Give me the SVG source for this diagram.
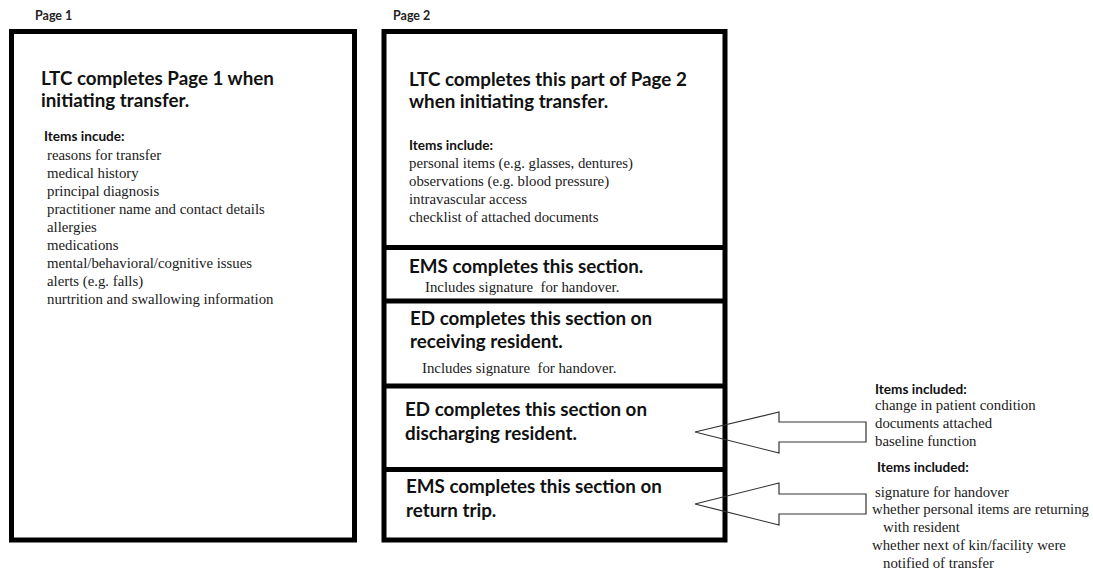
<svg xmlns="http://www.w3.org/2000/svg" width="1093" height="577" viewBox="0 0 1093 577">
<style>
.frame{fill:none;stroke:#000;stroke-width:5}
.div{stroke:#000;stroke-width:5}
.lbl{font-family:Lato,"Open Sans",sans-serif;font-weight:bold;font-size:12.5px;fill:#222}
.title{font-family:Lato,"Open Sans",sans-serif;font-weight:bold;font-size:18.8px;fill:#111}
.head{font-family:Lato,"Open Sans",sans-serif;font-weight:bold;font-size:13.6px;fill:#111}
.item{font-family:"Liberation Serif","Times New Roman",serif;font-size:14.8px;fill:#1a1a1a;white-space:pre}
.arrow{fill:none;stroke:#333;stroke-width:1.2;stroke-linejoin:miter}
</style>
<rect width="1093" height="577" fill="#fff"/>
<g id="page1">
<text class="lbl" x="35" y="20">Page 1</text>
<rect class="frame" x="11.5" y="31.5" width="343" height="508.5"/>
<text class="title" x="41" y="85">LTC completes Page 1 when</text>
<text class="title" x="41" y="107">initiating transfer.</text>
<text class="head" x="44" y="141">Items incude:</text>
<text class="item" x="47" y="160">reasons for transfer</text>
<text class="item" x="47" y="178">medical history</text>
<text class="item" x="47" y="196">principal diagnosis</text>
<text class="item" x="47" y="214">practitioner name and contact details</text>
<text class="item" x="47" y="232">allergies</text>
<text class="item" x="47" y="250">medications</text>
<text class="item" x="47" y="268">mental/behavioral/cognitive issues</text>
<text class="item" x="47" y="286">alerts (e.g. falls)</text>
<text class="item" x="47" y="304">nurtrition and swallowing information</text>
</g>
<g id="page2">
<text class="lbl" x="393" y="20">Page 2</text>
<rect class="frame" x="384" y="31.5" width="341" height="508.5"/>
<line class="div" x1="384" y1="247.5" x2="725" y2="247.5"/>
<line class="div" x1="384" y1="301" x2="725" y2="301"/>
<line class="div" x1="384" y1="386" x2="725" y2="386"/>
<line class="div" x1="384" y1="469.5" x2="725" y2="469.5"/>
</g>
<g id="sec-ltc">
<text class="title" x="409" y="86">LTC completes this part of Page 2</text>
<text class="title" x="409" y="108">when initiating transfer.</text>
<text class="head" x="409" y="150">Items include:</text>
<text class="item" x="409" y="168">personal items (e.g. glasses, dentures)</text>
<text class="item" x="409" y="186">observations (e.g. blood pressure)</text>
<text class="item" x="409" y="204">intravascular access</text>
<text class="item" x="409" y="222">checklist of attached documents</text>
</g>
<g id="sec-ems">
<text class="title" x="409" y="273">EMS completes this section.</text>
<text class="item" x="425" y="292">Includes signature  for handover.</text>
</g>
<g id="sec-ed-receiving">
<text class="title" x="410" y="325">ED completes this section on</text>
<text class="title" x="410" y="348">receiving resident.</text>
<text class="item" x="422" y="373">Includes signature  for handover.</text>
</g>
<g id="sec-ed-discharging">
<text class="title" x="405" y="416">ED completes this section on</text>
<text class="title" x="405" y="440">discharging resident.</text>
</g>
<g id="sec-ems-return">
<text class="title" x="406" y="493">EMS completes this section on</text>
<text class="title" x="406" y="517">return trip.</text>
</g>
<g id="note-discharging">
<text class="head" x="875" y="394">Items included:</text>
<text class="item" x="875" y="410">change in patient condition</text>
<text class="item" x="875" y="428">documents attached</text>
<text class="item" x="875" y="446">baseline function</text>
</g>
<g id="note-return">
<text class="head" x="877" y="472">Items included:</text>
<text class="item" x="875" y="497">signature for handover</text>
<text class="item" x="872" y="514">whether personal items are returning</text>
<text class="item" x="883" y="532">with resident</text>
<text class="item" x="872" y="550">whether next of kin/facility were</text>
<text class="item" x="883" y="568">notified of transfer</text>
</g>
<g id="connectors">
<path class="arrow" d="M695,432 L779,412 L779,422 L866,422 L866,442 L779,442 L779,453 Z"/>
<path class="arrow" d="M695,504 L779,483 L779,494 L866,494 L866,514 L779,514 L779,525 Z"/>
</g>
</svg>
